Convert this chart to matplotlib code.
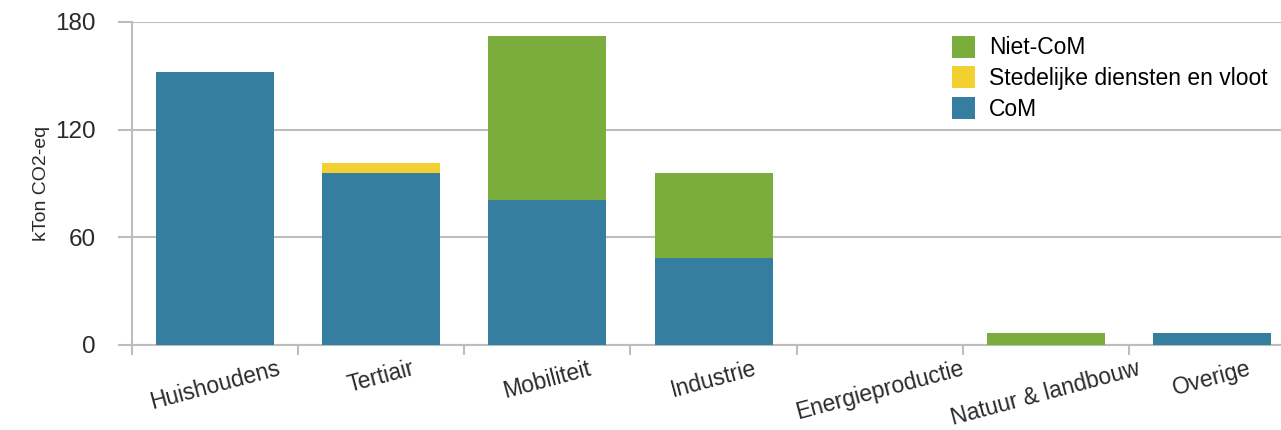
import matplotlib.pyplot as plt
import numpy as np

plt.rcParams['font.family'] = ['Liberation Sans', 'DejaVu Sans']

categories = ["Huishoudens", "Tertiair", "Mobiliteit", "Industrie",
              "Energieproductie", "Natuur & landbouw", "Overige"]
com = [152, 96, 81, 48.5, 0, 0, 6.7]
stedelijk = [0, 5.5, 0, 0, 0, 0, 0]
niet_com = [0, 0, 91, 47.5, 0, 6.7, 0]

c_com = "#357ea0"
c_sted = "#f2d031"
c_niet = "#7aad3c"
grid_c = "#bdbdbd"
txt_c = "#2a2a2a"

fig = plt.figure(figsize=(12.81, 4.30), dpi=100)
ax = fig.add_axes([0.103, 0.198, 0.908, 0.751])

x = np.arange(len(categories))
w = 0.71
com_a = np.array(com)
sted_a = np.array(stedelijk)
niet_a = np.array(niet_com)
b1 = ax.bar(x, com_a, w, color=c_com, label="CoM", zorder=3)
b2 = ax.bar(x, sted_a, w, bottom=com_a, color=c_sted,
            label="Stedelijke diensten en vloot", zorder=3)
b3 = ax.bar(x, niet_a, w, bottom=com_a + sted_a, color=c_niet,
            label="Niet-CoM", zorder=3)

ax.set_xlim(-0.5, len(categories) - 0.5)
ax.set_ylim(0, 180)
ax.set_yticks([0, 60, 120, 180])
ax.yaxis.grid(True, color=grid_c, linewidth=1.5, zorder=0)
ax.tick_params(axis='y', length=10, width=1.5, color=grid_c, labelsize=17.5,
               pad=16, labelcolor=txt_c)

ax.set_xticks(x)
ax.set_xticklabels(categories, rotation=15, ha='center', fontsize=16.5,
                   color=txt_c)
ax.tick_params(axis='x', length=0, pad=9)
ax.set_xticks(np.arange(len(categories) + 1) - 0.5, minor=True)
ax.tick_params(axis='x', which='minor', length=7, width=1.5, color=grid_c)

for s in ["top", "right"]:
    ax.spines[s].set_visible(False)
ax.spines["left"].set_color(grid_c)
ax.spines["left"].set_linewidth(1.5)
ax.spines["bottom"].set_color(grid_c)
ax.spines["bottom"].set_linewidth(1.5)

ax.set_ylabel("kTon CO2-eq", fontsize=14, color=txt_c, labelpad=4)

ax.legend(handles=[b3, b2, b1], loc="upper right", bbox_to_anchor=(0.988, 1.0),
          frameon=False, fontsize=16.5, handlelength=1.0, handleheight=1.1,
          handletextpad=0.6, labelspacing=0.3, borderaxespad=0.2)

fig.savefig("out.png", dpi=100)
